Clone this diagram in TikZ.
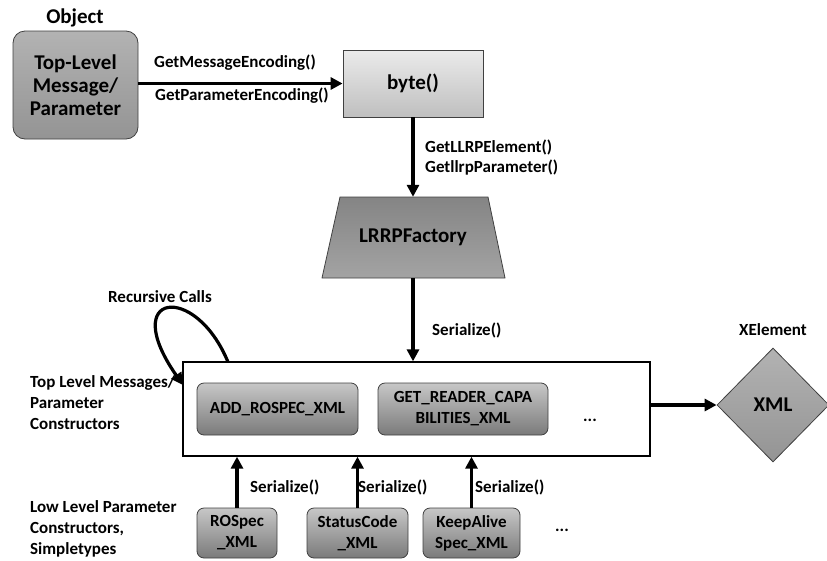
\documentclass[tikz,border=0pt]{standalone}
\usepackage{fontspec}
\setmainfont{Carlito}
\usetikzlibrary{shapes.geometric,arrows.meta}

\newcommand{\bigtxt}{\fontsize{21}{23}\selectfont\bfseries}
\newcommand{\smalltxt}{\fontsize{17}{21}\selectfont\bfseries}

\tikzset{
  flow/.style={line width=3.2pt,-{Triangle[length=12pt,width=12pt]}},
  grey box/.style={draw=black!75,line width=0.8pt,inner sep=0pt,align=center},
  inner box/.style={grey box,rounded corners=7pt,top color=black!22,bottom color=black!52,font=\smalltxt},
  lbl/.style={anchor=west,inner sep=0pt,align=left,font=\smalltxt}
}

\begin{document}
\begin{tikzpicture}[x=1pt,y=-1pt]
\useasboundingbox (0,0) rectangle (827,560);

% top row
\node[grey box,rounded corners=12pt,top color=black!30,bottom color=black!42,
  minimum width=125pt,minimum height=108pt,font=\bigtxt] (obj) at (75.5,85)
  {Top-Level\\Message/\\Parameter};
\node[font=\bigtxt] (objlbl) at (75,18) {Object};
\node[grey box,top color=black!8,bottom color=black!25,
  minimum width=140pt,minimum height=67pt,font=\bigtxt] (byte) at (413,83.5) {byte()};

% factory (trapezoid drawn by hand)
\draw[black!75,line width=0.8pt,top color=black!48,bottom color=black!36]
  (340,197) -- (488,197) -- (505,278) -- (322,278) -- cycle;
\node[inner sep=0pt,minimum width=150pt,minimum height=81pt,font=\bigtxt] (fact) at (413,237.5) {LRRPFactory};

% serializer block
\node[draw,line width=1.3pt,minimum width=467pt,minimum height=94pt,inner sep=0pt] (main) at (416.5,409) {};
\node[inner box,minimum width=161pt,minimum height=52pt] (add) at (277.5,409) {ADD\_ROSPEC\_XML};
\node[inner box,minimum width=170pt,minimum height=52pt] (get) at (463,409) {GET\_READER\_CAPA\\BILITIES\_XML};
\node[font=\smalltxt] (dots1) at (590,420) {...};

\node[grey box,diamond,minimum width=112pt,minimum height=114pt,
  top color=black!30,bottom color=black!42,font=\bigtxt] (xml) at (773,405) {XML};
\node[font=\smalltxt] (xlbl) at (773,330) {XElement};

% low level constructors
\node[inner box,minimum width=80pt,minimum height=50pt] (ro) at (237,533) {ROSpec\\\_XML};
\node[inner box,minimum width=101pt,minimum height=50pt] (sc) at (357.5,533) {StatusCode\\\_XML};
\node[inner box,minimum width=97pt,minimum height=50pt] (ka) at (471.5,533) {KeepAlive\\Spec\_XML};
\node[font=\smalltxt] (dots2) at (562,530) {...};

% connectors
\draw[flow] (obj.east |- byte.west) -- (byte.west);
\node[font=\smalltxt] (enc1) at (235,63) {GetMessageEncoding()};
\node[font=\smalltxt] (enc2) at (242,96) {GetParameterEncoding()};

\draw[flow] (byte.south) -- (fact.north);
\node[lbl] (get1) at (425,147) {GetLLRPElement()};
\node[lbl] (get2) at (425,168) {GetllrpParameter()};

\draw[flow] (fact.south) -- (fact.south |- main.north);
\node[lbl] (ser0) at (432,330) {Serialize()};

\draw[flow] (main.east |- xml.west) -- (xml.west);

\draw[flow] (ro.north) -- (ro.north |- main.south);
\draw[flow] (sc.north) -- (sc.north |- main.south);
\draw[flow] (ka.north) -- (ka.north |- main.south);
\node[lbl] (ser1) at (250,487) {Serialize()};
\node[lbl] (ser2) at (358,487) {Serialize()};
\node[lbl] (ser3) at (475,487) {Serialize()};

% recursive calls
\coordinate (rcout) at (228,362);
\coordinate (rcin) at (183,385);
\draw[flow] (rcout) .. controls (195,282) and (118,292) .. (rcin);
\node[font=\smalltxt] (rclbl) at (160,297) {Recursive Calls};

% left side labels
\node[lbl,anchor=north west] (toplbl) at (30,375) {Top Level Messages/\\Parameter\\Constructors};
\node[lbl,anchor=north west] (lowlbl) at (30,500) {Low Level Parameter\\Constructors,\\Simpletypes};
\end{tikzpicture}
\end{document}
